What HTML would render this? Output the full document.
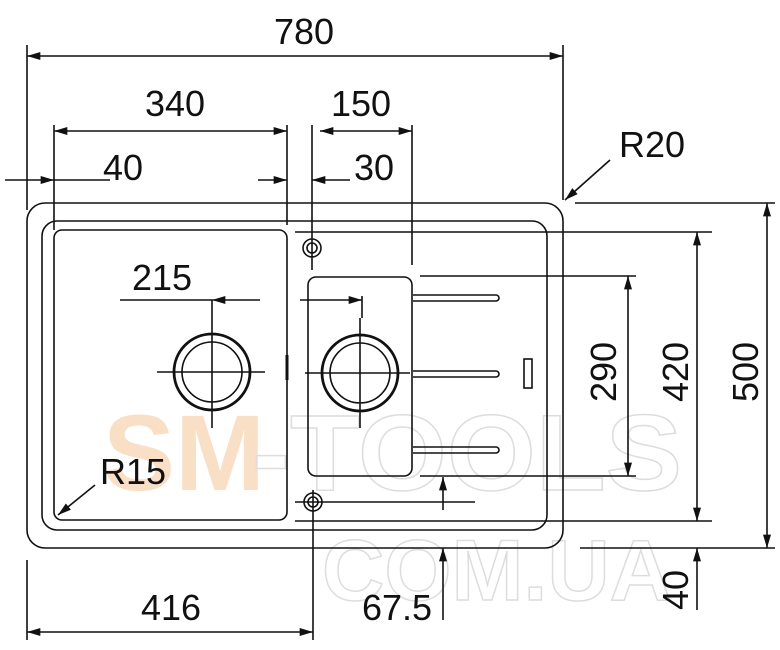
<!DOCTYPE html>
<html><head><style>body{margin:0;background:#fff}svg{display:block}</style></head><body>
<svg width="780" height="650" viewBox="0 0 780 650" xmlns="http://www.w3.org/2000/svg" font-family="Liberation Sans, sans-serif">
<defs>
<marker id="a" viewBox="0 0 10 6" refX="10" refY="3" markerWidth="17" markerHeight="8" markerUnits="userSpaceOnUse" orient="auto-start-reverse"><path d="M0,0L10,3L0,6z" fill="#111"/></marker>
</defs>
<g font-weight="bold" font-size="108">
<text x="103" y="490" fill="#f9dfc6">SM</text>
<text x="252" y="490" fill="none" stroke="#ddd" stroke-width="1.5" textLength="430" lengthAdjust="spacingAndGlyphs">-TOOLS</text>
<text x="322" y="600" fill="none" stroke="#ddd" stroke-width="1.5" font-size="86" textLength="350" lengthAdjust="spacingAndGlyphs">COM.UA</text>
</g>
<g fill="none" stroke="#111" stroke-width="1.6">
<rect x="27" y="203" width="536" height="345" rx="18"/>
<rect x="42" y="221" width="505" height="309" rx="15"/>
<rect x="54" y="230" width="233" height="290" rx="8"/>
<rect x="308" y="277" width="104" height="199" rx="8"/>
<circle cx="212" cy="372" r="38" stroke-width="2.8"/><circle cx="212" cy="372" r="30"/>
<circle cx="360" cy="373" r="38" stroke-width="2.8"/><circle cx="360" cy="373" r="30"/>
<circle cx="312" cy="248" r="9"/><circle cx="312" cy="248" r="5"/>
<circle cx="313" cy="502" r="9"/><circle cx="313" cy="502" r="5"/>
<path d="M157 372H265M212 318V428M305 373H410M360 318V428"/>
<path d="M413 295H496a3 3 0 0 1 0 6H413M413 371H496a3 3 0 0 1 0 6H413M413 447H496a3 3 0 0 1 0 6H413"/>
<rect x="524" y="359" width="8" height="29"/>
<path d="M287 355V380" stroke-width="3"/>
<path d="M27 45V210M563 45V200M54 125V230M287 125V225M312 125V270M412 125V265M313 490V640M27 560V640"/>
<path d="M420 276H636M420 476H636M295 232H712M295 521H712M575 203H775M580 548H775M295 502H475"/>
<path d="M212 300V318M362 296V318"/>
<path d="M27 56H563" marker-start="url(#a)" marker-end="url(#a)"/>
<path d="M54 131H287" marker-start="url(#a)" marker-end="url(#a)"/>
<path d="M320 131H412" marker-start="url(#a)" marker-end="url(#a)"/>
<path d="M5 180H54" marker-end="url(#a)"/><path d="M110 180H54"/>
<path d="M258 180H287" marker-end="url(#a)"/><path d="M350 180H312" marker-end="url(#a)"/>
<path d="M120 300H212"/><path d="M260 300H212" marker-end="url(#a)"/><path d="M300 300H362" marker-end="url(#a)"/>
<path d="M628 276V476" marker-start="url(#a)" marker-end="url(#a)"/>
<path d="M697 232V521" marker-start="url(#a)" marker-end="url(#a)"/>
<path d="M767 203V548" marker-start="url(#a)" marker-end="url(#a)"/>
<path d="M697 610V548" marker-end="url(#a)"/>
<path d="M443 510V477" marker-end="url(#a)"/><path d="M443 620V548" marker-end="url(#a)"/>
<path d="M27 632H313" marker-start="url(#a)" marker-end="url(#a)"/>
<path d="M610 160L565 200" marker-end="url(#a)"/>
<path d="M95 485L58 515" marker-end="url(#a)"/>
</g>
<g font-size="36" fill="#111" text-anchor="middle">
<text x="304" y="44">780</text>
<text x="175" y="116">340</text>
<text x="361" y="116">150</text>
<text x="123" y="180">40</text>
<text x="374" y="180">30</text>
<text x="652" y="157">R20</text>
<text x="162" y="290">215</text>
<text x="133" y="484">R15</text>
<text x="171" y="620">416</text>
<text x="397" y="620">67.5</text>
<text transform="translate(616 372) rotate(-90)">290</text>
<text transform="translate(688 372) rotate(-90)">420</text>
<text transform="translate(758 372) rotate(-90)">500</text>
<text transform="translate(688 590) rotate(-90)">40</text>
</g>
</svg>
</body></html>
